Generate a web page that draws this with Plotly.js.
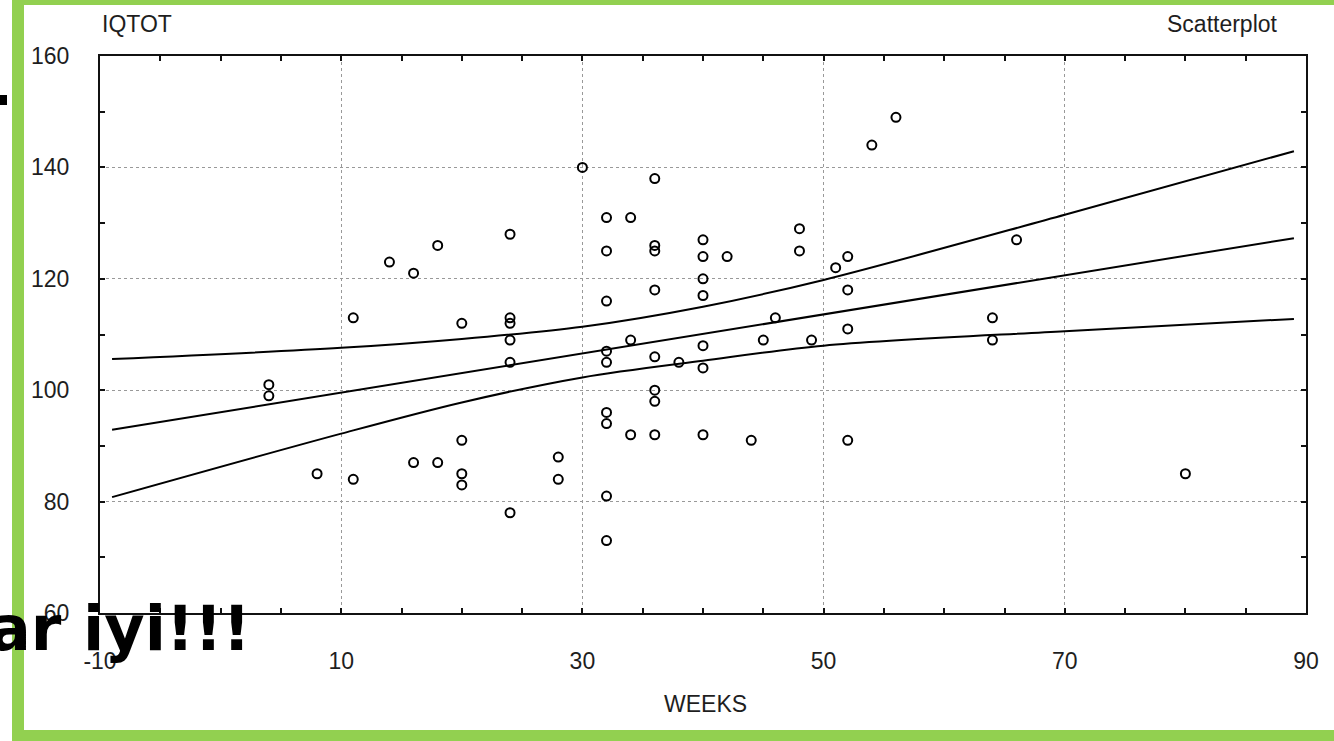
<!DOCTYPE html>
<html><head><meta charset="utf-8">
<script src="https://cdn.plot.ly/plotly-3.0.1.min.js"></script>
<style>html,body{margin:0;padding:0;background:#fff;overflow:hidden}#chart{width:1334px;height:741px}</style>
</head><body><div id="chart"></div>
<script>
// ---- data ----
const weeks = [4,4,8,11,11,14,16,16,18,18,20,20,20,20,24,24,24,24,24,24,28,28,30,
  32,32,32,32,32,32,32,32,32,34,34,34,36,36,36,36,36,36,36,36,38,
  40,40,40,40,40,40,40,42,44,45,46,48,48,49,51,52,52,52,52,54,56,64,64,66,80];
const iqtot = [101,99,85,113,84,123,121,87,126,87,112,91,85,83,128,113,112,109,105,78,88,84,140,
  131,125,116,107,105,96,94,81,73,131,109,92,138,126,125,118,106,100,98,92,105,
  127,124,120,117,108,104,92,124,91,109,113,129,125,109,122,124,118,111,91,144,149,113,109,127,85];
const fitWeeks = [-9, 89];
const fitIQ = [92.9, 127.3];
const bandWeeks = [-9, 10, 20, 30, 40, 50, 70, 89];
const upperIQ = [105.6, 107.6, 109.2, 111.4, 115.0, 119.8, 131.5, 142.9];
const lowerIQ = [80.8, 92.2, 97.8, 102.3, 105.3, 108.0, 110.6, 112.8];
const xTickVals = [-10, 10, 30, 50, 70, 90];
const xTickText = ['-10', '10', '30', '50', '70', '90'];
const yTickVals = [60, 80, 100, 120, 140, 160];
const yTickText = ['60', '80', '100', '120', '140', '160'];
const xTitle = 'WEEKS';
const yTitle = 'IQTOT';
const plotName = 'Scatterplot';
const overlayText = 'ar iyi!!!';

// ---- geometry helpers (pixels -> paper) ----
const W = 1334, H = 741, L = 100, R = 28, T = 56, B = 128;
const PW = W - L - R, PH = H - T - B;
const px = x => (x - L) / PW;
const py = y => (H - B - y) / PH;

const GREEN = '#92D050';
const tfont = {family: 'Liberation Sans, Arial, sans-serif', size: 23, color: '#1e1e1e'};

const lineStyle = {color: '#000', width: 2};
const traces = [
  {x: fitWeeks, y: fitIQ, mode: 'lines', line: lineStyle, hoverinfo: 'skip'},
  {x: bandWeeks, y: upperIQ, mode: 'lines', line: Object.assign({shape: 'spline', smoothing: 0.9}, lineStyle), hoverinfo: 'skip'},
  {x: bandWeeks, y: lowerIQ, mode: 'lines', line: Object.assign({shape: 'spline', smoothing: 0.9}, lineStyle), hoverinfo: 'skip'},
  {x: weeks, y: iqtot, mode: 'markers', marker: {symbol: 'circle-open', size: 9, color: '#000', line: {width: 2, color: '#000'}}}
];

const axisCommon = {
  showline: true, linecolor: '#111', linewidth: 2, mirror: 'ticks',
  ticks: 'inside', ticklen: 5, tickwidth: 2, tickcolor: '#111',
  showgrid: true, gridcolor: '#999', gridwidth: 1, griddash: 'dot',
  zeroline: false, tickfont: tfont, fixedrange: true
};

const layout = {
  width: W, height: H,
  margin: {l: L, r: R, t: T, b: B, pad: 0},
  paper_bgcolor: '#fff', plot_bgcolor: '#fff',
  showlegend: false,
  xaxis: Object.assign({}, axisCommon, {
    range: [-10, 90], tickmode: 'array', tickvals: xTickVals, ticktext: xTickText, ticklabelstandoff: 26,
    minor: {dtick: 5, tick0: -10, ticks: 'inside', ticklen: 5, tickwidth: 2, tickcolor: '#111', showgrid: false}
  }),
  yaxis: Object.assign({}, axisCommon, {
    range: [60, 160], tickmode: 'array', tickvals: yTickVals, ticktext: yTickText, ticklabelstandoff: 24,
    minor: {dtick: 10, tick0: 60, ticks: 'inside', ticklen: 5, tickwidth: 2, tickcolor: '#111', showgrid: false}
  }),
  shapes: [
    {type: 'rect', xref: 'paper', yref: 'paper', x0: px(12), x1: px(24), y0: py(0), y1: py(741), fillcolor: GREEN, line: {width: 0}, layer: 'above'},
    {type: 'rect', xref: 'paper', yref: 'paper', x0: px(12), x1: px(1334), y0: py(0), y1: py(5), fillcolor: GREEN, line: {width: 0}, layer: 'above'},
    {type: 'rect', xref: 'paper', yref: 'paper', x0: px(12), x1: px(1334), y0: py(730), y1: py(741), fillcolor: GREEN, line: {width: 0}, layer: 'above'},
    {type: 'rect', xref: 'paper', yref: 'paper', x0: px(0), x1: px(7), y0: py(95), y1: py(105), fillcolor: '#000', line: {width: 0}, layer: 'above'}
  ],
  annotations: [
    {text: yTitle, xref: 'paper', yref: 'paper', x: px(100), y: py(24), xanchor: 'left', yanchor: 'middle', showarrow: false, font: tfont},
    {text: plotName, xref: 'paper', yref: 'paper', x: px(1280), y: py(24), xanchor: 'right', yanchor: 'middle', showarrow: false, font: tfont},
    {text: xTitle, xref: 'paper', yref: 'paper', x: px(705), y: py(704), xanchor: 'center', yanchor: 'middle', showarrow: false, font: tfont},
    {text: overlayText, xref: 'paper', yref: 'paper', x: px(253), y: py(628), xanchor: 'right', yanchor: 'middle', showarrow: false,
     font: {family: 'DejaVu Sans, sans-serif', size: 62, color: '#000', weight: 'bold'}}
  ]
};

Plotly.newPlot('chart', traces, layout, {displayModeBar: false, staticPlot: true});
</script></body></html>
